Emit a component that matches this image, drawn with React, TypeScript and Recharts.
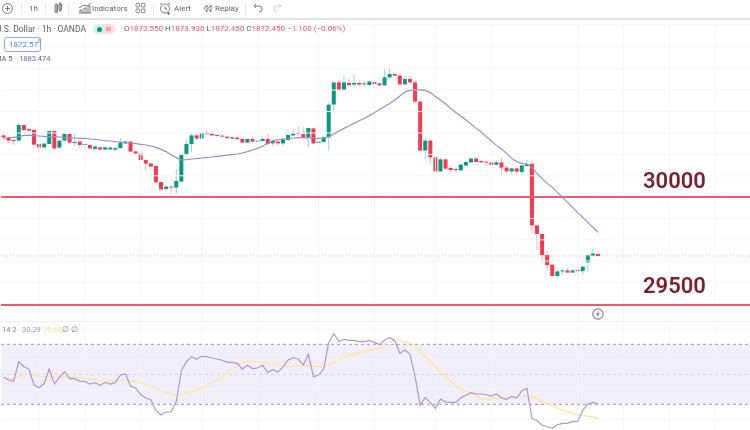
import { Bar, ComposedChart, Line, ReferenceArea, ReferenceLine, XAxis, YAxis } from 'recharts'

// candles, one hour each
const opens = [
  1932.8, 1931.8, 1930.5, 1930.2, 1938, 1936, 1935.5, 1928.5, 1926.8, 1928.5,
  1935, 1926.7, 1930.2, 1933.5, 1929.2, 1929.7, 1928.2, 1928, 1926, 1926.8,
  1925.7, 1925.8, 1925.7, 1926.5, 1928.8, 1929.7, 1924.8, 1923.8, 1920.5, 1918.8,
  1917.5, 1909.5, 1906, 1907.2, 1906.7, 1909.7, 1923, 1928.5, 1932.8, 1931.2,
  1934, 1933.7, 1933, 1932.7, 1932.2, 1931.2, 1931.7, 1931, 1929.2, 1931,
  1929.7, 1930, 1931, 1928.8, 1929.7, 1928.8, 1930.5, 1932.8, 1934, 1933.5,
  1931.8, 1936.3, 1929, 1929.5, 1931.8, 1948.2, 1959.3, 1955.5, 1959, 1958.2,
  1959, 1958.3, 1958, 1959.5, 1958.8, 1957.8, 1961.8, 1963.5, 1962.7, 1958.3,
  1961, 1959.3, 1949.7, 1925.2, 1930.2, 1921.8, 1914.8, 1920.8, 1916.5, 1916,
  1915.3, 1917.8, 1919.3, 1921.2, 1920, 1919.7, 1919.3, 1918.2, 1919.3, 1916.7,
  1914.8, 1916.3, 1914.5, 1917.5, 1918.5, 1887.8, 1883.5, 1873, 1868.2, 1862.5,
  1864.8, 1865.3, 1864.2, 1865.5, 1865, 1869.3, 1872.7, 1873.5,
]
const highs = [
  1933.8, 1932.2, 1930.8, 1939.2, 1938, 1936.3, 1935.8, 1928.5, 1929.3, 1935,
  1935, 1930.2, 1934.2, 1933.8, 1933.5, 1929.7, 1928.8, 1928.2, 1928, 1927,
  1927, 1926.8, 1926.7, 1931.3, 1930.5, 1929.8, 1925, 1924, 1920.7, 1919,
  1917.7, 1909.7, 1908, 1907.5, 1915.8, 1923.2, 1930.5, 1933.5, 1933.5, 1934.8,
  1935.5, 1935.2, 1933.2, 1932.8, 1932.3, 1932, 1932.7, 1931.2, 1931.2, 1932.2,
  1930.3, 1932.5, 1933.5, 1930.5, 1930, 1931.2, 1934.7, 1936.3, 1937.5, 1937.2,
  1936.8, 1936.3, 1930, 1932.5, 1949.2, 1959.3, 1960.5, 1962.5, 1961.3, 1963.5,
  1960.5, 1959.7, 1960, 1960.5, 1959, 1965.8, 1966.3, 1963.7, 1963.8, 1962.5,
  1962.5, 1960.5, 1949.9, 1931.3, 1930.5, 1922, 1921.8, 1921.2, 1917.5, 1916.3,
  1918.5, 1919.7, 1921.8, 1921.8, 1920.2, 1919.8, 1919.5, 1920.2, 1921.5, 1917.8,
  1916.7, 1916.5, 1918, 1920.5, 1920, 1887.9, 1883.6, 1875.2, 1868.3, 1865.8,
  1866.2, 1866.3, 1865.8, 1870, 1867.3, 1873, 1876.3, 1873.5,
]
const lows = [
  1930.5, 1928.8, 1928, 1930.2, 1934.7, 1933.8, 1927.2, 1924.2, 1925.8, 1928.3,
  1925.5, 1926.5, 1929.8, 1928.5, 1927.5, 1926.8, 1925.5, 1926, 1924.8, 1925.5,
  1925.5, 1925.7, 1925.2, 1925.8, 1928.5, 1924.5, 1923, 1920.2, 1915.2, 1915.8,
  1909.2, 1904.7, 1905, 1903.8, 1903.5, 1909.5, 1922.2, 1924.2, 1930.5, 1931,
  1933, 1932.5, 1931.8, 1932, 1931.3, 1931, 1930.2, 1929, 1929, 1929.5,
  1929.5, 1929.8, 1927.5, 1927.5, 1927.5, 1927.5, 1930.3, 1932.5, 1932.2, 1931.5,
  1926.8, 1928.5, 1924.2, 1929.3, 1925.2, 1944.2, 1955.3, 1955.3, 1957.2, 1957.2,
  1957.8, 1957.5, 1957.8, 1958.3, 1957.7, 1957.7, 1961.7, 1962.5, 1957.8, 1958.2,
  1959.2, 1948.8, 1925, 1920.8, 1918.5, 1914.7, 1914.7, 1915.5, 1914.5, 1914.5,
  1915.1, 1917.5, 1919.2, 1919.3, 1919.2, 1917.2, 1917.8, 1917.5, 1913.2, 1913.8,
  1913.2, 1912.5, 1912.2, 1917.3, 1883.8, 1875.5, 1869.2, 1865.2, 1862.2, 1860.8,
  1863, 1864, 1864, 1861.3, 1863, 1864.5, 1872.5, 1872.3,
]
const closes = [
  1931.8, 1930.2, 1930.2, 1938, 1935.5, 1935.2, 1928.2, 1926.8, 1928.7, 1935,
  1926.3, 1930.2, 1933.5, 1929.2, 1929.5, 1928, 1928.5, 1926.3, 1927.2, 1925.7,
  1926.8, 1926.7, 1926.5, 1929.2, 1929.7, 1924.7, 1923.8, 1920.5, 1918.7, 1917.2,
  1909.3, 1905.8, 1907.2, 1906.7, 1910, 1923.2, 1928.5, 1932.8, 1931.2, 1934,
  1933.5, 1932.8, 1932.5, 1932.2, 1931.5, 1931.8, 1931, 1929.2, 1931, 1929.7,
  1930.2, 1931, 1928.5, 1930, 1928.8, 1930.8, 1933, 1933.8, 1933.5, 1931.8,
  1936.5, 1928.8, 1929.7, 1931.8, 1948.2, 1959.3, 1955.5, 1959.3, 1958, 1959,
  1958.2, 1958.8, 1959.7, 1958.5, 1957.8, 1961.8, 1963.5, 1962.7, 1958.3, 1961,
  1959.3, 1949.7, 1925.2, 1930.2, 1921.8, 1914.8, 1920.8, 1916.2, 1915.5, 1915.5,
  1918.2, 1919.5, 1921.2, 1919.5, 1919.3, 1919.2, 1918, 1919.3, 1916.7, 1914.8,
  1916.3, 1914.7, 1917.8, 1918.3, 1887.8, 1883.5, 1873, 1868, 1862.5, 1864.8,
  1865.3, 1864.2, 1865.3, 1865, 1867.2, 1872.8, 1873.7, 1872.5,
]
const maValues = [
  1931.3, 1931.5, 1931.8, 1932.2, 1932.8, 1932.8, 1932.7, 1932.5, 1932.3, 1932.2,
  1932.2, 1932, 1931.8, 1931.7, 1931.5, 1931.3, 1931.3, 1931, 1930.8, 1930.5,
  1930.2, 1930, 1929.7, 1929.5, 1929.2, 1929, 1928.7, 1928.3, 1928, 1927.5,
  1926.8, 1925.8, 1924.7, 1923, 1921.7, 1920.5, 1920.7, 1921, 1921.2, 1921.5,
  1921.8, 1922, 1922.3, 1922.6, 1922.9, 1923.2, 1923.5, 1924, 1924.7, 1925.5,
  1926.3, 1927.5, 1928.8, 1930.2, 1930.6, 1931, 1931.2, 1931.5, 1931.7, 1931.7,
  1931.6, 1931.4, 1931.3, 1931.5, 1932.2, 1933.5, 1935, 1936.3, 1937.6, 1938.8,
  1940.1, 1941.4, 1942.7, 1944.2, 1945.8, 1947.3, 1948.8, 1950.5, 1952.5, 1954.5,
  1955.3, 1955.6, 1955.6, 1955.3, 1954.2, 1952.2, 1950.5, 1948.5, 1946.3, 1944.3,
  1942.5, 1940.5, 1938.5, 1936.3, 1934.5, 1932.2, 1930, 1927.8, 1926, 1923.8,
  1921.3, 1919.7, 1918.8, 1918.5, 1916.7, 1913.8, 1911.2, 1908.8, 1906.8, 1904.3,
  1901.8, 1899.3, 1896.8, 1894.2, 1891.8, 1889.3, 1886.8, 1884.3,
]
const rsiValues = [
  48, 46.2, 45.3, 58.4, 55.1, 53.5, 42.9, 41.1, 44, 53.5,
  43.5, 48, 51.8, 47.1, 47.1, 45.5, 45.3, 43.5, 44.4, 42.6,
  44.6, 43.5, 44.6, 49.5, 50.2, 42.2, 40.9, 36.4, 34.4, 32.9,
  25.8, 22.9, 24.9, 24.9, 31.8, 52.4, 58.4, 61.8, 60, 62,
  61.8, 60.9, 60.2, 59.5, 58, 58, 57.3, 53.5, 56, 53.8,
  54.2, 56, 51.3, 53.1, 51.5, 54.9, 59.5, 61.1, 60.2, 56.2,
  63.3, 48.4, 49.5, 53.5, 71.1, 77.1, 71.8, 73.3, 72.6, 72.6,
  71.8, 71.8, 72.6, 71.3, 69.8, 72.9, 74.4, 72.4, 64, 66.2,
  63.3, 48.4, 29.3, 34.6, 31.1, 27.3, 33.5, 31.5, 31.3, 31.3,
  34.4, 36, 37.8, 36.9, 36.9, 36.4, 35.5, 36.9, 34.4, 33.3,
  35.3, 34.2, 39.1, 40.6, 20.6, 19.1, 16.2, 15.1, 14, 16.4,
  17.3, 17.3, 18.6, 18.6, 26.2, 30.2, 31.3, 30.2,
]
const rsiMaValues = [
  48.4, 47.3, 47.1, 48.4, 50, 50.2, 49.5, 48.6, 48.4, 48.4,
  48.2, 48.2, 48.2, 48.2, 48.2, 48, 47.3, 46.6, 46.2, 45.8,
  45.8, 45.8, 46, 46.2, 46.2, 45.5, 44.9, 44.2, 43.5, 42.4,
  40.6, 39.1, 37.8, 36.9, 36, 36.4, 37.8, 38.6, 39.5, 40.6,
  42.4, 44.2, 46.2, 48.4, 51.1, 53.8, 56.2, 58.2, 58.6, 58.6,
  58.2, 58, 57.5, 56.9, 56.4, 55.5, 55.3, 55.5, 55.8, 56,
  55.9, 55.3, 55.1, 55.3, 56.2, 57.8, 59.5, 61.1, 62.6, 63.8,
  64.6, 65.3, 66, 66.9, 67.5, 69.8, 71.5, 72.9, 72.2, 71.5,
  70.9, 68.9, 65.3, 61.8, 58.2, 54.9, 51.5, 48.4, 45.1, 42.2,
  40.4, 38.6, 37.3, 35.5, 34, 33.5, 33.8, 34, 34.2, 34.4,
  34.6, 35.3, 35.5, 35.8, 34.9, 33.8, 32.2, 30.4, 28.9, 27.5,
  26, 25.1, 24, 22.9, 22.6, 22.2, 21.5, 20.6,
]

// drawn levels and grid
const level30000 = 1902
const level29500 = 1848
const lastPrice = 1872.5
const priceGrid = [1988, 1977.2, 1966.3, 1955.5, 1944.7, 1934, 1923.3, 1912.6, 1902, 1891.3, 1880.6, 1870, 1859.2, 1848.5]
const timeGrid = [7, 16, 27, 39, 50, 62, 73, 85, 96, 113, 122, 131, 140]
const rsiGrid = [80, 60, 40, 20]
const rsiDashed = [70, 50, 30]

const SLOTS = 148 // room on the right of the last candle

const rows = Array.from({ length: SLOTS }, (_, i) => ({
  idx: i,
  open: opens[i] ?? null,
  close: closes[i] ?? null,
  range: i < opens.length ? [lows[i], highs[i]] : null,
  ma: maValues[i] ?? null,
  rsi: rsiValues[i] ?? null,
  rsiMa: rsiMaValues[i] ?? null,
}))

const UP = '#089981'
const DOWN = '#f7384f'
const GRID = '#f5f5f7'

function Candle(props: any) {
  const { x, y, width, height, payload } = props
  if (!payload || payload.open == null) return null
  const [low, high] = payload.range
  const perUnit = height / (high - low)
  const top = y + (high - Math.max(payload.open, payload.close)) * perUnit
  const bodyH = Math.max(Math.abs(payload.open - payload.close) * perUnit, 1)
  const color = payload.close >= payload.open ? UP : DOWN
  const cx = x + width / 2
  return (
    <g>
      <line x1={cx} x2={cx} y1={y} y2={y + height} stroke={color} strokeOpacity={0.4} strokeWidth={1} />
      <rect x={cx - 2} y={top} width={4} height={bodyH} fill={color} />
    </g>
  )
}

const uiFont = 'Roboto, "Noto Sans", sans-serif'

function Txt({ x, y, size = 8, color = '#5d606b', weight = 400, children }: any) {
  return (
    <div style={{ position: 'absolute', left: x, top: y, fontSize: size, color, fontWeight: weight, lineHeight: '10px', whiteSpace: 'nowrap' }}>
      {children}
    </div>
  )
}

function Sep({ x }: { x: number }) {
  return <div style={{ position: 'absolute', left: x, top: 3, width: 1, height: 12, background: '#e6e7ec' }} />
}

function Toolbar() {
  const ic = { fill: 'none', stroke: '#6a6d78', strokeWidth: 0.9 }
  return (
    <>
      <svg width={300} height={18} style={{ position: 'absolute', left: 0, top: 0 }}>
        <g {...ic}>
          <circle cx={7.5} cy={8.5} r={5} />
          <path d="M7.5 6v5M5 8.5h5" />
          <path d="M55 5h2.5v7H55zM59 4h2.5v6H59zM56.2 3v10M60.2 2v10" />
          <path d="M79 13h12M80 13v-3h2v3M84 13v-5h2v5M88 13v-7h2v7M79 8l5-3 3 1 4-3" />
          <rect x={136} y={3.5} width={3.5} height={3.5} rx={0.8} />
          <rect x={141.5} y={3.5} width={3.5} height={3.5} rx={0.8} />
          <rect x={136} y={9} width={3.5} height={3.5} rx={0.8} />
          <rect x={141.5} y={9} width={3.5} height={3.5} rx={0.8} />
          <circle cx={165} cy={8.5} r={4.5} />
          <path d="M165 6v3h2M162 3l-2 1.500M168 3l2 1.500M168.500 12v3M167 13.500h3" />
          <path d="M207 5l-3 3.500 3 3.500zM211 5l-3 3.500 3 3.500z" />
          <path d="M254 6h5a3 3 0 0 1 0 6M254 6l2-2M254 6l2 2" />
          <path d="M281 6h-4a3 3 0 0 0 0 6M281 6l-2-2M281 6l-2 2" stroke="#c5c7cf" />
        </g>
      </svg>
      <Sep x={21} />
      <Txt x={29} y={4}>1h</Txt>
      <Sep x={45} />
      <Sep x={68} />
      <Txt x={92} y={4}>Indicators</Txt>
      <Sep x={153} />
      <Txt x={174} y={4}>Alert</Txt>
      <Txt x={215} y={4}>Replay</Txt>
      <Sep x={245} />
      <div style={{ position: 'absolute', left: 0, top: 17.5, width: 750, height: 2, background: '#e0e3eb' }} />
    </>
  )
}

function Legend() {
  const val = '#f7526a'
  return (
    <>
      <Txt x={-4} y={24} size={8.5}>U.S. Dollar · 1h · OANDA</Txt>
      <div style={{ position: 'absolute', left: 93, top: 24, width: 22, height: 10, borderRadius: 5, background: 'linear-gradient(90deg,#d9efe9 50%,#fbdde1 50%)' }} />
      <div style={{ position: 'absolute', left: 97, top: 26.5, width: 5, height: 5, borderRadius: 3, background: UP }} />
      <div style={{ position: 'absolute', left: 106, top: 27, width: 5, height: 4, background: '#f7a0ad' }} />
      <Txt x={124} y={24} size={8} color={val}>
        <span style={{ color: '#5d606b' }}>O</span>1873.550 <span style={{ color: '#5d606b' }}>H</span>1873.930 <span style={{ color: '#5d606b' }}>L</span>1872.450 <span style={{ color: '#5d606b' }}>C</span>1872.450 −1.100 (−0.06%)
      </Txt>
      <div style={{ position: 'absolute', left: 4, top: 37, width: 35, height: 13, border: '1px solid #8ea8f5', borderRadius: 3, boxSizing: 'content-box' }} />
      <Txt x={9} y={39.500} size={8} color="#5a7cf0">1872.57<sup style={{ fontSize: 5.5, lineHeight: 0 }}>8</sup></Txt>
      <Txt x={-5} y={54} size={7.5}>MA 5</Txt>
      <Txt x={19} y={54} size={7.5} color="#7e57c2">1883.474</Txt>
      <Txt x={2} y={325} size={7.5} color="#7b7d86">14 2</Txt>
      <Txt x={22} y={325} size={7.5} color="#a78fdc">30.29</Txt>
      <Txt x={43} y={325} size={7.5} color="#f7e08a">20.68</Txt>
      <Txt x={62} y={325} size={7.5} color="#7b7d86">∅</Txt>
      <Txt x={71} y={325} size={7.5} color="#7b7d86">∅</Txt>
    </>
  )
}

export default function App() {
  return (
    <div style={{ position: 'absolute', left: 0, top: 0, width: 750, height: 430, overflow: 'hidden', background: '#fff', fontFamily: uiFont, filter: 'blur(0.35px)' }}>
      <div style={{ position: 'absolute', left: 0, top: 18 }}>
        <ComposedChart width={753} height={303} data={rows} margin={{ top: 0, right: 0, bottom: 0, left: 1 }}>
          <XAxis dataKey="idx" hide scale="band" />
          <YAxis hide domain={[1840, 1991.5]} allowDataOverflow />
          {priceGrid.map(p => <ReferenceLine key={p} y={p} stroke={GRID} />)}
          {timeGrid.map(t => <ReferenceLine key={t} x={t} stroke={GRID} />)}
          <ReferenceLine y={lastPrice} stroke="#f7a8b2" strokeDasharray="1 2" />
          <ReferenceLine y={level30000} stroke="#ee5c6c" strokeWidth={2} />
          <ReferenceLine y={level29500} stroke="#ee5c6c" strokeWidth={2} />
          <Bar dataKey="range" shape={Candle} isAnimationActive={false} />
          <Line dataKey="ma" stroke="#9b8ad8" strokeWidth={1.2} dot={false} isAnimationActive={false} />
        </ComposedChart>
      </div>
      <div style={{ position: 'absolute', left: 0, top: 326 }}>
        <ComposedChart width={753} height={104} data={rows} margin={{ top: 0, right: 0, bottom: 0, left: 1 }}>
          <XAxis dataKey="idx" hide scale="band" />
          <YAxis hide domain={[12.9, 82.2]} allowDataOverflow />
          {rsiGrid.map(v => <ReferenceLine key={v} y={v} stroke={GRID} />)}
          {timeGrid.map(t => <ReferenceLine key={t} x={t} stroke={GRID} />)}
          <ReferenceArea y1={30} y2={70} fill="#7e57c2" fillOpacity={0.1} stroke="none" />
          {rsiDashed.map(v => <ReferenceLine key={v} y={v} stroke={v === 50 ? '#d3d0dc' : '#9a98a3'} strokeDasharray="3 3" />)}
          <Line dataKey="rsiMa" stroke="#fbe78f" strokeWidth={1.2} dot={false} isAnimationActive={false} />
          <Line dataKey="rsi" stroke="#ab97de" strokeWidth={1.2} dot={false} isAnimationActive={false} />
        </ComposedChart>
      </div>
      <div style={{ position: 'absolute', left: 0, top: 321, width: 750, height: 1, background: '#eeeff3' }} />

      <Toolbar />
      <Legend />

      <div style={{ position: 'absolute', left: 643, top: 168, fontSize: 22, fontWeight: 600, lineHeight: '26px', color: '#7d1e2c', fontFamily: 'Roboto, sans-serif' }}>30000</div>
      <div style={{ position: 'absolute', left: 643, top: 273, fontSize: 22, fontWeight: 600, lineHeight: '26px', color: '#7d1e2c', fontFamily: 'Roboto, sans-serif' }}>29500</div>

      <svg width={14} height={14} style={{ position: 'absolute', left: 591, top: 307 }}>
        <circle cx={7} cy={7} r={5.2} fill="#fff" stroke="#8a76c9" strokeWidth={1.2} />
        <path d="M8.500 3.500L4.800 7.500h2L5.500 10.500l3.700-4h-2z" fill="#8a76c9" />
      </svg>
    </div>
  )
}
